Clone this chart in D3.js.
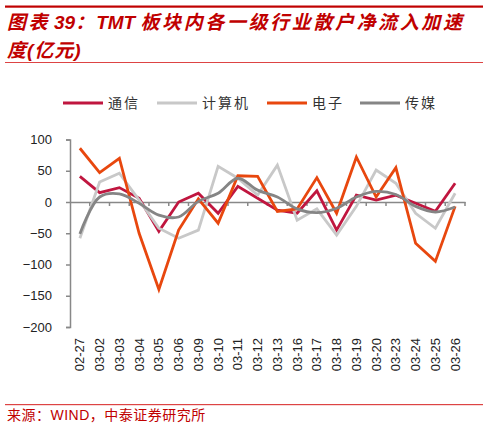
<!DOCTYPE html>
<html>
<head>
<meta charset="utf-8">
<script src="https://cdn.jsdelivr.net/npm/d3@7"></script>
<style>
  body { margin: 0; background: #fff; }
  text { font-family: "Liberation Sans", Arial, "Noto Sans CJK SC", sans-serif; }
</style>
</head>
<body>
<div id="chart"></div>
<script>
// Données (亿元)
const dates = ["02-27", "03-02", "03-03", "03-04", "03-05", "03-06", "03-09", "03-10", "03-11", "03-12",
               "03-13", "03-16", "03-17", "03-18", "03-19", "03-20", "03-23", "03-24", "03-25", "03-26"];
const tongxin = [41, 15, 23, 6, -47, 0, 14, -18, 25, 6, -13, -18, 18, -45, 11, 3, 11, -2, -15, 30];
const jisuanji = [-58, 32, 46, 3, -42, -58, -45, 57, 38, 11, 59, -29, -11, -53, -7, 51, 30, -18, -42, 14];
const dianzi = [86, 47, 70, -50, -140, -45, 5, -34, 42, 41, -15, -11, 39, -18, 72, 8, 55, -66, -95, -7];
const chuanmei = [-51, 8, 13, -2, -21, -24, 1, 14, 38, 19, 8, -11, -17, -10, 8, 17, 12, -7, -16, -8];
const yTicks = [-200, -150, -100, -50, 0, 50, 100];

const seriesNames = ["通信", "计算机", "电子", "传媒"],
    seriesValues = [tongxin, jisuanji, dianzi, chuanmei],
    colors = ["#c0163f", "#c8c8c8", "#e8470e", "#858585"],
    red = "#c00000",
    W = 488, H = 428;

const svg = d3.select("#chart").append("svg")
    .attr("width", W)
    .attr("height", H);

// En-tête rouge
svg.append("rect").attr("x", 5).attr("y", 5.5).attr("width", 478).attr("height", 2.2).style("fill", red);
svg.append("rect").attr("x", 5).attr("y", 62).attr("width", 478).attr("height", 1).style("fill", "#d44");

const title = svg.append("text")
    .style("fill", red)
    .style("font-size", "19px")
    .style("font-weight", "bold")
    .style("font-style", "italic");
// les caractères chinois sont plus espacés que le latin
const titleLine1 = [["图表", 2.5], ["39", 0], ["：", 0], ["TMT ", 0], ["板块内各一级行业散户净流入加速", 2.6]];
titleLine1.forEach((seg, i) => {
    const t = title.append("tspan").style("letter-spacing", seg[1] + "px").text(seg[0]);
    if (i === 0) t.attr("x", 7).attr("y", 29);
    if (i === 1) t.attr("dx", 4);
    if (i === 3) t.attr("dx", 2);
});
title.append("tspan").attr("x", 7).attr("y", 57).style("letter-spacing", "1px").text("度(亿元)");

// Pied de page
svg.append("rect").attr("x", 5).attr("y", 404).attr("width", 478).attr("height", 1.2).style("fill", "#d44");
svg.append("text")
    .attr("x", 7)
    .attr("y", 420)
    .style("fill", red)
    .style("font-size", "14px")
    .style("letter-spacing", "0.5px")
    .text("来源：WIND，中泰证券研究所");

// Échelles
const x = d3.scaleBand()
    .domain(dates)
    .range([70, 465]);

const y = d3.scaleLinear()
    .domain([-200, 100])
    .range([327, 139.5]);

const cx = d => x(d) + x.bandwidth() / 2;

// Axe Y
const yAxis = svg.append("g")
    .attr("transform", "translate(70,0)")
    .call(d3.axisLeft(y).tickValues(yTicks).tickSize(4).tickPadding(14));
yAxis.select(".domain").style("stroke", "#888").style("stroke-width", 1.5);
yAxis.selectAll(".tick line").style("stroke", "#888").style("stroke-width", 1.5);
yAxis.selectAll("text").style("font-size", "13px").style("fill", "#222");

// Axe X sur la ligne zéro, graduations entre les catégories
const xAxis = svg.append("g")
    .attr("transform", "translate(0," + y(0) + ")")
    .call(d3.axisBottom(x).tickSize(0).tickFormat(""));
xAxis.select(".domain").style("stroke", "#888").style("stroke-width", 1.5);

svg.append("g").selectAll("line")
    .data(dates.map(d => x(d) + x.step()))
    .enter().append("line")
    .attr("x1", d => d).attr("x2", d => d)
    .attr("y1", y(0)).attr("y2", y(0) + 4)
    .style("stroke", "#888")
    .style("stroke-width", 1.5);

// Étiquettes des dates (verticales, en bas)
svg.append("g").selectAll("text")
    .data(dates)
    .enter().append("text")
    .attr("transform", d => "translate(" + cx(d) + ",338) rotate(-90)")
    .attr("dy", "0.35em")
    .attr("text-anchor", "end")
    .style("font-size", "13px")
    .style("fill", "#222")
    .text(d => d);

// Courbes
seriesValues.forEach((vals, i) => {
    const line = d3.line()
        .x((v, j) => cx(dates[j]))
        .y(v => y(v))
        .curve(i === 3 ? d3.curveCatmullRom.alpha(0.5) : d3.curveLinear);

    svg.append("path")
        .datum(vals)
        .attr("d", line)
        .style("fill", "none")
        .style("stroke", colors[i])
        .style("stroke-width", 2.8)
        .style("stroke-linejoin", "miter");
});

// Légende
const legendX = [63, 157, 267, 360];
const legend = svg.append("g");
seriesNames.forEach((name, i) => {
    legend.append("line")
        .attr("x1", legendX[i]).attr("x2", legendX[i] + 40)
        .attr("y1", 103).attr("y2", 103)
        .style("stroke", colors[i])
        .style("stroke-width", 3);
    legend.append("text")
        .attr("x", legendX[i] + 45)
        .attr("y", 108)
        .style("font-size", "14px")
        .style("fill", "#333")
        .style("letter-spacing", "2px")
        .text(name);
});
</script>
</body>
</html>
